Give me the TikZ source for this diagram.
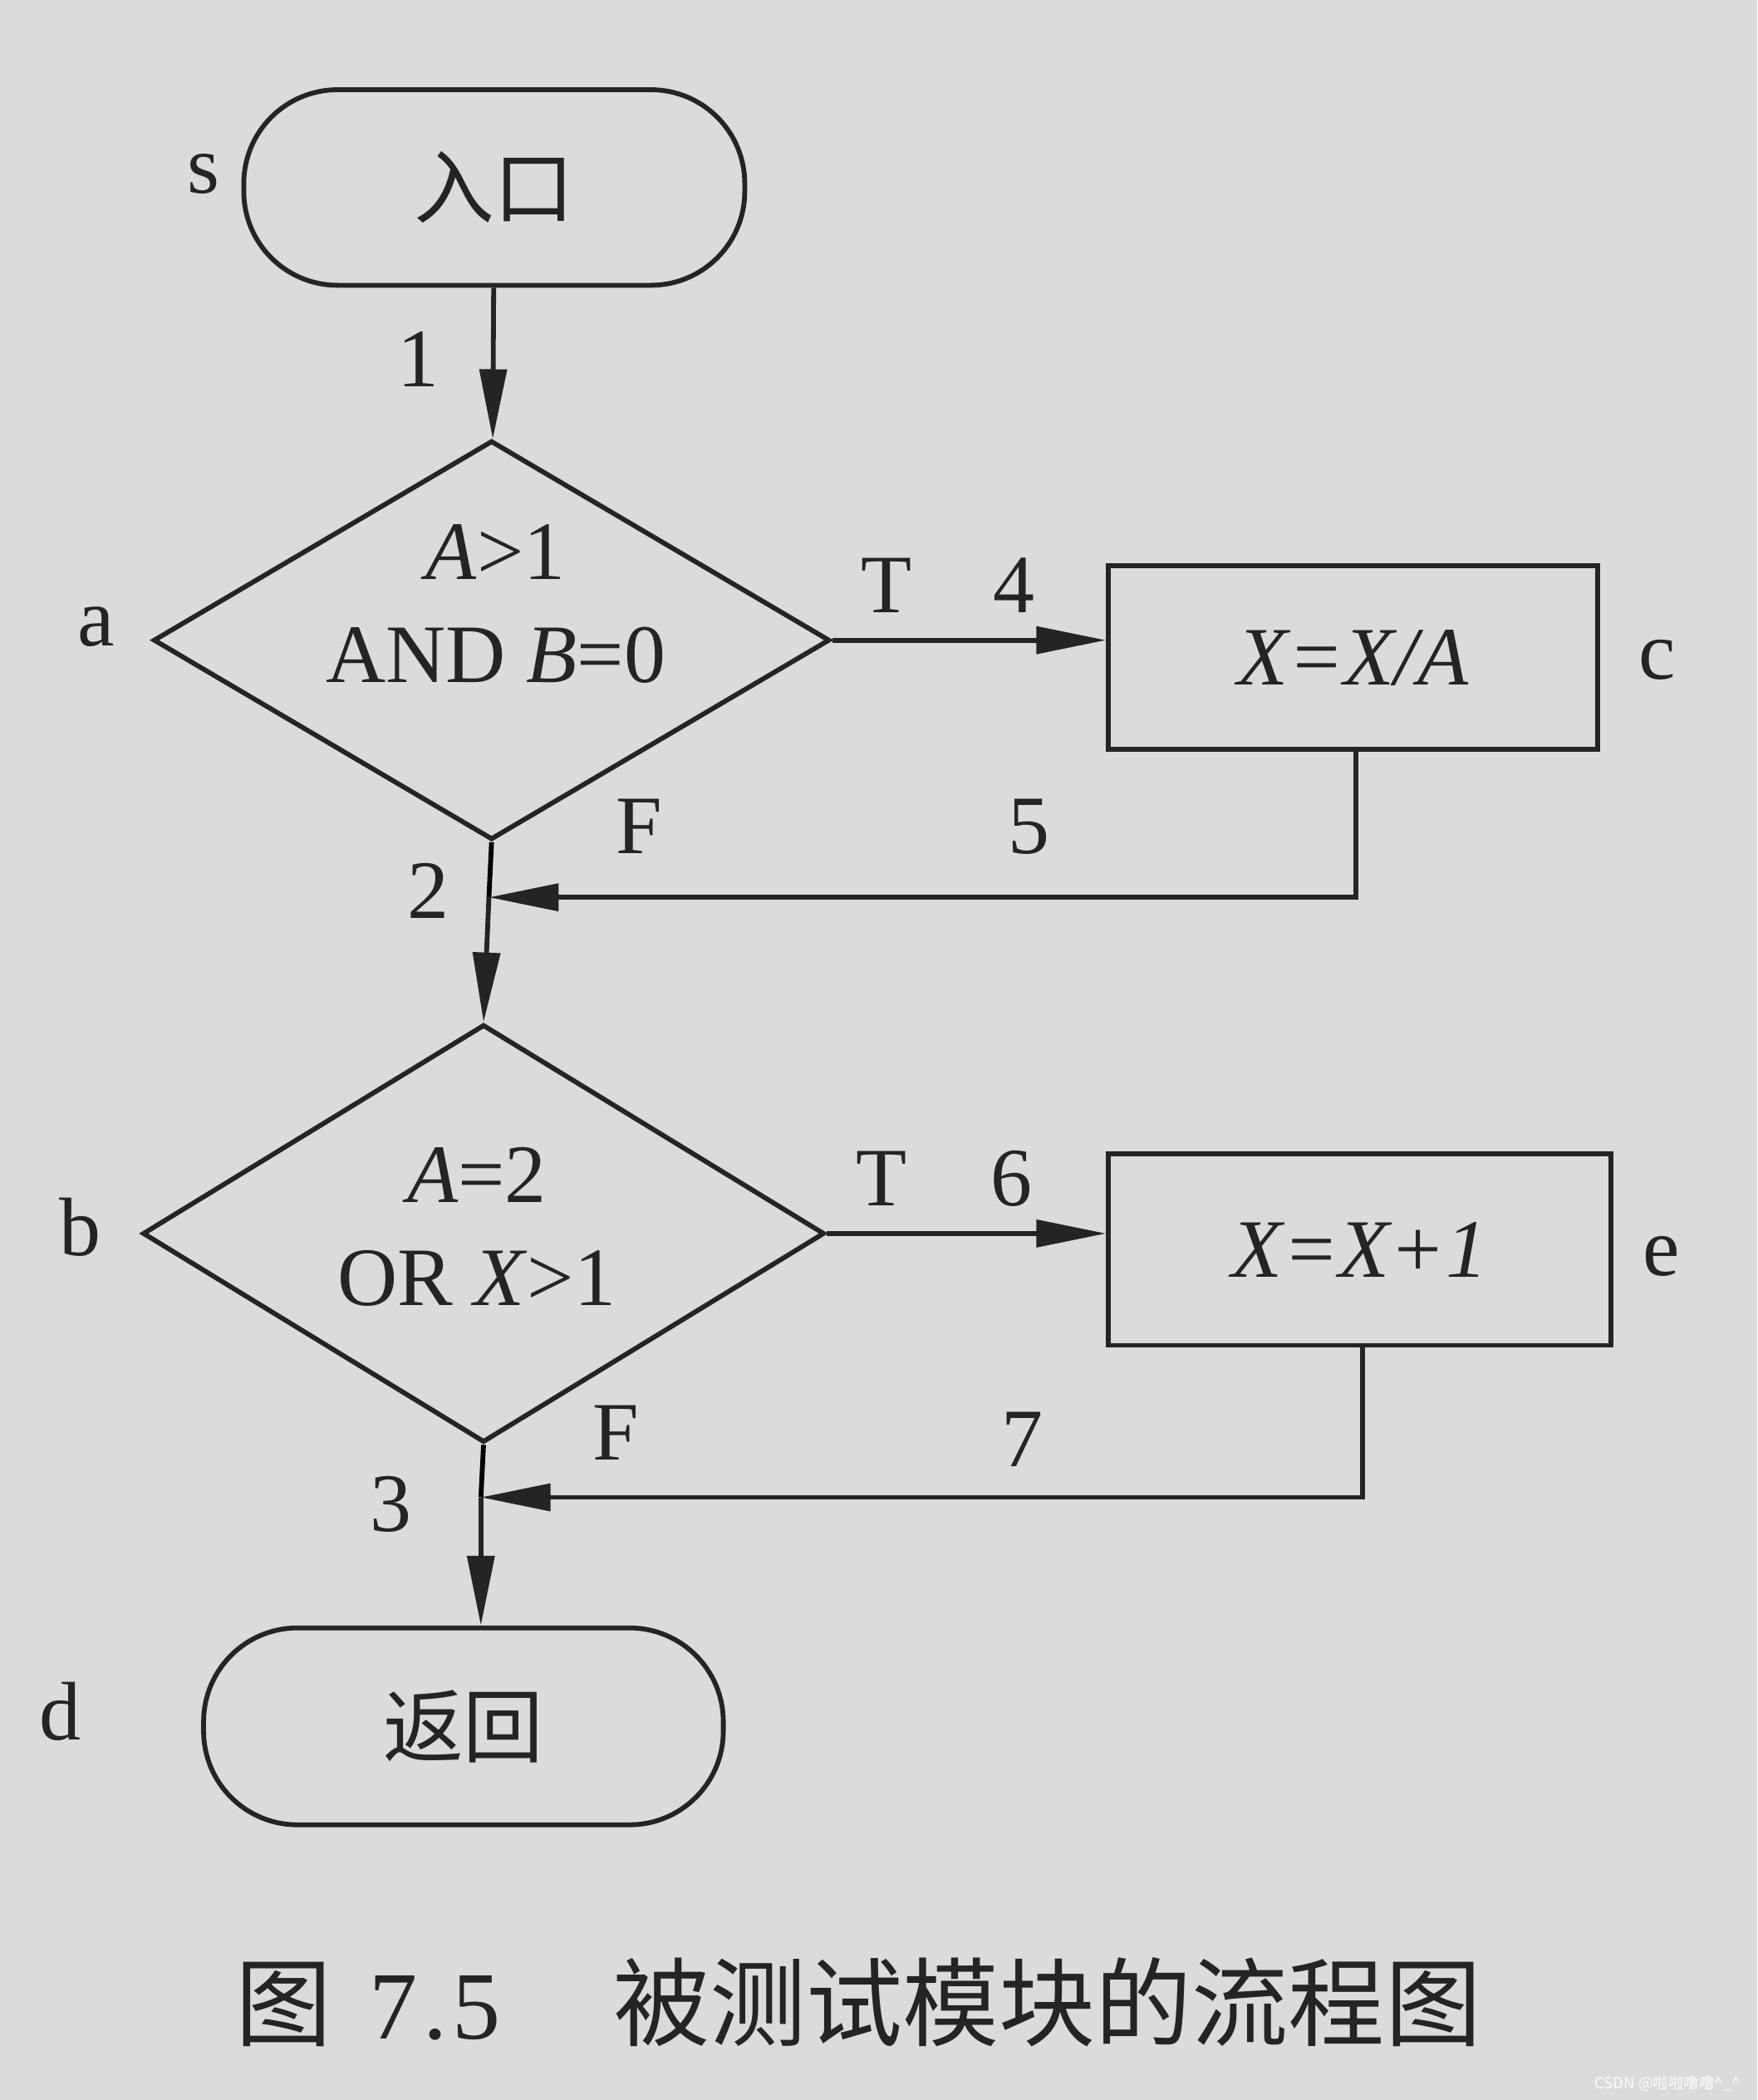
\documentclass[tikz,border=0pt]{standalone}
\usepackage{fontspec}
\setmainfont{Liberation Serif}
\newfontfamily\cjk{Noto Sans CJK SC}
\usetikzlibrary{shapes.geometric,arrows.meta}

\definecolor{ink}{RGB}{36,36,36}
\definecolor{paper}{RGB}{219,219,217}

\tikzset{every picture/.style={line width=3.6pt}}
\tikzset{
	terminal/.style={draw=ink, rectangle, rounded corners=70pt, inner sep=0.75pt, text=ink, font=\cjk\fontsize{60}{62}\selectfont},
	decision/.style={draw=ink, diamond, inner sep=0pt},
	process/.style={draw=ink, rectangle, inner sep=0.75pt, text=ink, font=\fontsize{62}{66}\selectfont\itshape},
	flow/.style={draw=ink, -{Triangle[length=52pt,width=20pt]}},
	lbl/.style={inner sep=0.75pt, text=ink, font=\fontsize{62}{77}\selectfont},
}

\begin{document}
\begin{tikzpicture}[x=1pt,y=1pt,yscale=-1,xscale=1]
		%set diagram left start at 0, and has height of 1568
		\fill[paper] (0,0) rectangle (1312,1568);
		\useasboundingbox (0,0) rectangle (1312,1568);

		%Shape: Terminals
		\node[terminal, minimum width=374pt, minimum height=146pt] (start) at (369,140) {入口};
		\node[terminal, minimum width=388pt, minimum height=147pt] (d) at (346,1289) {返回};
		%Shape: Diamonds
		\node[decision, minimum width=505pt, minimum height=298pt] (a) at (367,478) {};
		\node[decision, minimum width=509pt, minimum height=312pt] (b) at (361,921) {};
		%Shape: Boxes
		\node[process, minimum width=365pt, minimum height=137pt] (c) at (1010,491) {X=X/A};
		\node[process, minimum width=375pt, minimum height=143pt] (e) at (1015,933) {X=X+1};

		%Junctions
		\coordinate (j2) at (365,670);
		\coordinate (j3) at (359,1118);

		%Straight Lines
		\draw[flow] (start) -- (a);
		\draw[flow] (a.east) -- (a.east -| c.west);
		\draw (a.south) -- (j2);
		\draw[flow] (j2) -- (b.north);
		\draw[flow] ([xshift=2pt]c.south) |- (j2);
		\draw[flow] (b.east) -- (b.east -| e.west);
		\draw (b.south) -- (j3);
		\draw[flow] (j3) -- (j3 |- d.north);
		\draw[flow] ([xshift=2pt]e.south) |- (j3);

		% Text Node
		\node[lbl, align=center] (atext) at (370,451) {\textit{A}>1\\AND \textit{B}=0};
		% Text Node
		\node[lbl, align=center] (btext) at (356,916) {\textit{A}=2\\OR \textit{X}>1};

		% Text Node
		\node[lbl] (ls) at (152,130) {s};
		\node[lbl] (la) at (72,468) {a};
		\node[lbl] (lb) at (60,916) {b};
		\node[lbl] (lc) at (1237,493) {c};
		\node[lbl] (ld) at (45,1278) {d};
		\node[lbl] (le) at (1240,938) {e};
		% Text Node
		\node[lbl] (n1) at (312,268) {1};
		\node[lbl] (n2) at (320,665) {2};
		\node[lbl] (n3) at (292,1123) {3};
		\node[lbl] (n4) at (757,437) {4};
		\node[lbl] (n5) at (768,617) {5};
		\node[lbl] (n6) at (755,880) {6};
		\node[lbl] (n7) at (763,1075) {7};
		% Text Node
		\node[lbl] (ta) at (662,437) {T};
		\node[lbl] (tb) at (658,880) {T};
		\node[lbl] (fa) at (477,617) {F};
		\node[lbl] (fb) at (460,1070) {F};

		% Text Node
		\node[inner sep=0.75pt, text=ink, font=\fontsize{72}{74}\selectfont] (caption) at (641,1495) {{\cjk 图}\hspace{28pt}7\hspace{4pt}.\hspace{4pt}5\hspace{84pt}{\cjk 被测试模块的流程图}};
		% Text Node
		\node[inner sep=0.75pt, text=white!92!paper, font=\cjk\fontsize{11.5}{12}\selectfont] (mark) at (1245,1556) {CSDN @啦啦噜噜\textasciicircum\_\textasciicircum};

	\end{tikzpicture}
\end{document}
